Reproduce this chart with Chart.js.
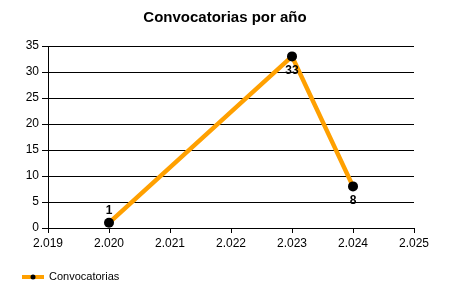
<!DOCTYPE html>
<html>
<head>
<meta charset="utf-8">
<script src="https://cdn.jsdelivr.net/npm/chart.js@4/dist/chart.umd.min.js"></script>
<style>
  html, body { margin: 0; padding: 0; background: #fff; }
  #chart { display: block; }
</style>
</head>
<body>
<canvas id="chart" width="450" height="300"></canvas>
<script>
// Chart data
const chartTitle = 'Convocatorias por año';
const seriesName = 'Convocatorias';
const years = [2020, 2023, 2024];
const counts = [1, 33, 8];
const labelPositions = ['top', 'bottom', 'bottom'];
const xTickValues = [2019, 2020, 2021, 2022, 2023, 2024, 2025];
const xTickLabels = ['2.019', '2.020', '2.021', '2.022', '2.023', '2.024', '2.025'];

const FONT = '"Liberation Sans", Arial, sans-serif';
const ORANGE = '#FFA000';

// Draws the value next to each point (no datalabels plugin available)
const pointLabels = {
    id: 'pointLabels',
    afterDatasetsDraw(chart) {
        const ctx = chart.ctx;
        const meta = chart.getDatasetMeta(0);
        ctx.save();
        ctx.font = 'bold 12px ' + FONT;
        ctx.fillStyle = '#000';
        ctx.textAlign = 'center';
        ctx.textBaseline = 'middle';
        meta.data.forEach((pt, i) => {
            let dy = labelPositions[i] === 'top' ? -12 : 14;
            ctx.fillText(String(counts[i]), pt.x, pt.y + dy);
        });
        ctx.restore();
    }
};

// Title box spans the whole canvas so the title is centred on it
const centerTitle = {
    id: 'centerTitle',
    afterLayout(chart) {
        if (chart.titleBlock) {
            chart.titleBlock.left = 0;
            chart.titleBlock.right = chart.width;
            chart.titleBlock.width = chart.width;
        }
    }
};

// Legend in the bottom left corner: line with a dot and the series name
const bottomLegend = {
    id: 'bottomLegend',
    afterDraw(chart) {
        const ctx = chart.ctx;
        const y = 277;
        ctx.save();
        ctx.strokeStyle = ORANGE;
        ctx.lineWidth = 4;
        ctx.beginPath();
        ctx.moveTo(22, y);
        ctx.lineTo(44, y);
        ctx.stroke();
        ctx.fillStyle = '#000';
        ctx.beginPath();
        ctx.arc(33, y, 2.5, 0, Math.PI * 2);
        ctx.fill();
        ctx.font = '11px ' + FONT;
        ctx.textAlign = 'left';
        ctx.textBaseline = 'middle';
        ctx.fillText(seriesName, 49, y);
        ctx.restore();
    }
};

new Chart(document.getElementById('chart'), {
    type: 'line',
    data: {
        datasets: [{
            label: seriesName,
            data: years.map((y, i) => ({ x: y, y: counts[i] })),
            borderColor: ORANGE,
            borderWidth: 4.5,
            backgroundColor: '#000',
            pointBackgroundColor: '#000',
            pointBorderColor: '#000',
            pointRadius: 5,
            pointBorderWidth: 0,
            tension: 0,
            fill: false
        }]
    },
    options: {
        responsive: false,
        animation: false,
        devicePixelRatio: 1,
        events: [],
        layout: {
            padding: { left: 0, right: 36, top: 0, bottom: 42 }
        },
        plugins: {
            legend: { display: false },
            tooltip: { enabled: false },
            title: {
                display: true,
                text: chartTitle,
                color: '#000',
                font: { family: FONT, size: 15, weight: 'bold', lineHeight: 1.2 },
                padding: { top: 8.5, bottom: 19.5 }
            }
        },
        scales: {
            x: {
                type: 'linear',
                min: 2019,
                max: 2025,
                afterFit(scale) { scale.height = 30; },
                afterBuildTicks(scale) {
                    scale.ticks = xTickValues.map(v => ({ value: v }));
                },
                ticks: {
                    stepSize: 1,
                    color: '#000',
                    padding: 3,
                    maxRotation: 0,
                    font: { family: FONT, size: 12 },
                    callback: (v) => xTickLabels[xTickValues.indexOf(v)]
                },
                grid: {
                    drawOnChartArea: false,
                    drawTicks: true,
                    tickLength: 5,
                    color: '#000'
                },
                border: { display: true, color: '#000', width: 1 }
            },
            y: {
                min: 0,
                max: 35,
                afterFit(scale) { scale.width = 48; },
                ticks: {
                    stepSize: 5,
                    color: '#000',
                    padding: 3,
                    font: { family: FONT, size: 12 }
                },
                grid: {
                    color: '#000',
                    lineWidth: 1,
                    drawTicks: true,
                    tickLength: 6
                },
                border: { display: true, color: '#000', width: 1 }
            }
        }
    },
    plugins: [centerTitle, pointLabels, bottomLegend]
});
</script>
</body>
</html>
